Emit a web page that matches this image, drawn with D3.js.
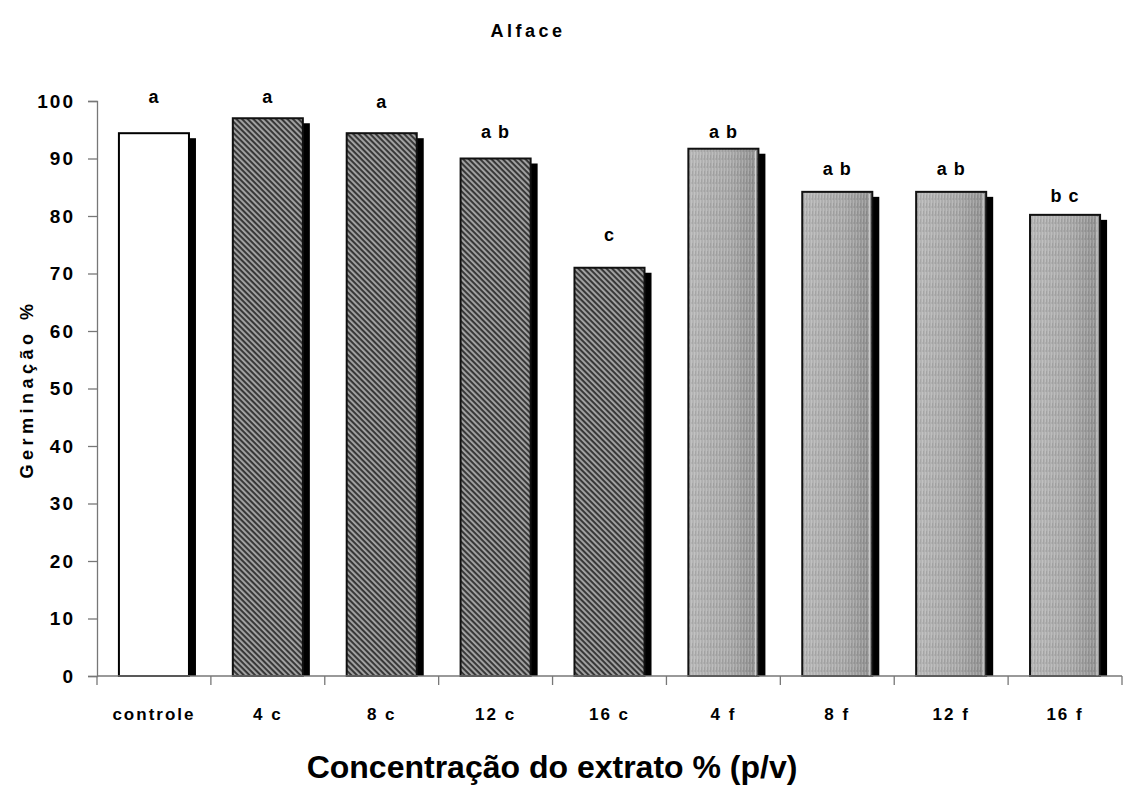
<!DOCTYPE html>
<html>
<head>
<meta charset="utf-8">
<script src="https://cdn.jsdelivr.net/npm/d3@7"></script>
<style>
  html, body { margin: 0; padding: 0; background: #fff; }
  svg { display: block; font-family: "Liberation Sans", Arial, sans-serif; }
</style>
</head>
<body>
<svg id="chart" width="1127" height="804"></svg>
<script>
// ---- data ----
const categories = ["controle", "4 c", "8 c", "12 c", "16 c", "4 f", "8 f", "12 f", "16 f"];
const groups = ["controle", "c", "c", "c", "c", "f", "f", "f", "f"];
const values = [94.4, 97, 94.4, 90, 71, 91.7, 84.2, 84.2, 80.2];
const letters = ["a", "a", "a", "a b", "c", "a b", "a b", "a b", "b c"];
const letterLevels = [99.7, 99.7, 98.8, 93.6, 75.6, 93.6, 87.1, 87.1, 82.4];
const yTicks = [0, 10, 20, 30, 40, 50, 60, 70, 80, 90, 100];
const title = "Alface";
const yTitle = "Germinação %";
const xTitle = "Concentração do extrato % (p/v)";

// ---- layout ----
const svg = d3.select("#chart");
const plot = { left: 97, right: 1122, top: 101, bottom: 676 };

const x = d3.scaleBand().domain(categories).range([plot.left, plot.right])
  .paddingInner(0.385).paddingOuter(0.1925);
const xSlots = d3.scaleBand().domain(categories).range([plot.left, plot.right]).padding(0);
const y = d3.scaleLinear().domain([0, 100]).range([plot.bottom, plot.top]);

// ---- defs: patterns ----
const defs = svg.append("defs");
const diag = defs.append("pattern").attr("id", "diag")
  .attr("patternUnits", "userSpaceOnUse").attr("width", 4).attr("height", 4)
  .attr("patternTransform", "rotate(45)");
diag.append("rect").attr("width", 4).attr("height", 4).attr("fill", "#a6a6a6");
diag.append("rect").attr("width", 4).attr("height", 2.1).attr("fill", "#383838");

const grad = defs.append("linearGradient").attr("id", "fgrad")
  .attr("x1", "0%").attr("x2", "100%").attr("y1", "0%").attr("y2", "0%");
grad.append("stop").attr("offset", "0%").attr("stop-color", "#b6b6b6");
grad.append("stop").attr("offset", "60%").attr("stop-color", "#a8a8a8");
grad.append("stop").attr("offset", "100%").attr("stop-color", "#8e8e8e");

const vtex = defs.append("pattern").attr("id", "vtex")
  .attr("patternUnits", "userSpaceOnUse").attr("width", 3).attr("height", 8);
vtex.append("rect").attr("x", 1).attr("y", 0).attr("width", 1).attr("height", 6)
  .attr("fill", "#ffffff").attr("opacity", 0.18);
vtex.append("rect").attr("x", 2).attr("y", 3).attr("width", 1).attr("height", 5)
  .attr("fill", "#000000").attr("opacity", 0.08);

// ---- title ----
svg.append("text").attr("x", 528).attr("y", 37)
  .attr("text-anchor", "middle").attr("font-weight", "bold").attr("font-size", 18)
  .attr("letter-spacing", 3.5).text(title);

// ---- bars ----
const shadowDx = 7, shadowDy = 5;
const bars = svg.append("g");
categories.forEach((c, i) => {
  const bx = x(c), bw = x.bandwidth(), by = y(values[i]), bh = y(0) - y(values[i]);
  bars.append("rect").attr("x", bx + shadowDx).attr("y", by + shadowDy)
    .attr("width", bw).attr("height", bh - shadowDy).attr("fill", "#000");
  if (groups[i] === "controle") {
    bars.append("rect").attr("x", bx).attr("y", by).attr("width", bw).attr("height", bh)
      .attr("fill", "#fff").attr("stroke", "#000").attr("stroke-width", 2);
  } else if (groups[i] === "c") {
    bars.append("rect").attr("x", bx).attr("y", by).attr("width", bw).attr("height", bh)
      .attr("fill", "url(#diag)").attr("stroke", "#111").attr("stroke-width", 2);
  } else {
    bars.append("rect").attr("x", bx).attr("y", by).attr("width", bw).attr("height", bh)
      .attr("fill", "url(#fgrad)");
    bars.append("rect").attr("x", bx).attr("y", by).attr("width", bw).attr("height", bh)
      .attr("fill", "url(#vtex)").attr("stroke", "#111").attr("stroke-width", 2);
    bars.append("line").attr("x1", bx + bw - 3).attr("x2", bx + bw - 3)
      .attr("y1", by + 2).attr("y2", y(0)).attr("stroke", "#d8d8d8").attr("stroke-width", 1);
  }
});

// ---- letters ----
svg.append("g").selectAll("text").data(categories).join("text")
  .attr("x", c => x(c) + x.bandwidth() / 2)
  .attr("y", (c, i) => y(letterLevels[i]))
  .attr("text-anchor", "middle").attr("font-weight", "bold").attr("font-size", 18)
  .attr("letter-spacing", 1)
  .text((c, i) => letters[i]);

// ---- y axis ----
const yAxis = svg.append("g").attr("transform", `translate(${plot.left},0)`)
  .call(d3.axisLeft(y).tickValues(yTicks).tickSize(9).tickPadding(13));
yAxis.select(".domain").attr("stroke", "#777").attr("stroke-width", 1.3);
yAxis.selectAll(".tick line").attr("stroke", "#777").attr("stroke-width", 1.3);
yAxis.selectAll(".tick text").attr("font-family", "Liberation Sans, Arial, sans-serif")
  .attr("font-size", 19).attr("font-weight", "bold").attr("fill", "#000")
  .attr("letter-spacing", 2);

// ---- x axis ----
svg.append("line").attr("x1", plot.left).attr("x2", plot.right)
  .attr("y1", y(0)).attr("y2", y(0)).attr("stroke", "#777").attr("stroke-width", 1.3);
const tickXs = categories.map(c => xSlots(c)).concat([plot.right]);
svg.append("g").selectAll("line").data(tickXs).join("line")
  .attr("x1", d => d).attr("x2", d => d)
  .attr("y1", y(0)).attr("y2", y(0) + 9).attr("stroke", "#777").attr("stroke-width", 1.3);
svg.append("g").selectAll("text").data(categories).join("text")
  .attr("x", c => xSlots(c) + xSlots.bandwidth() / 2)
  .attr("y", y(0) + 44)
  .attr("text-anchor", "middle").attr("font-weight", "bold").attr("font-size", 17)
  .attr("letter-spacing", 2)
  .text(c => c);

// ---- axis titles ----
svg.append("text").attr("transform", `translate(33,389) rotate(-90)`)
  .attr("text-anchor", "middle").attr("font-weight", "bold").attr("font-size", 18)
  .attr("letter-spacing", 4.5).text(yTitle);
svg.append("text").attr("x", 552).attr("y", 778)
  .attr("text-anchor", "middle").attr("font-weight", "bold").attr("font-size", 32)
  .text(xTitle);
</script>
</body>
</html>
